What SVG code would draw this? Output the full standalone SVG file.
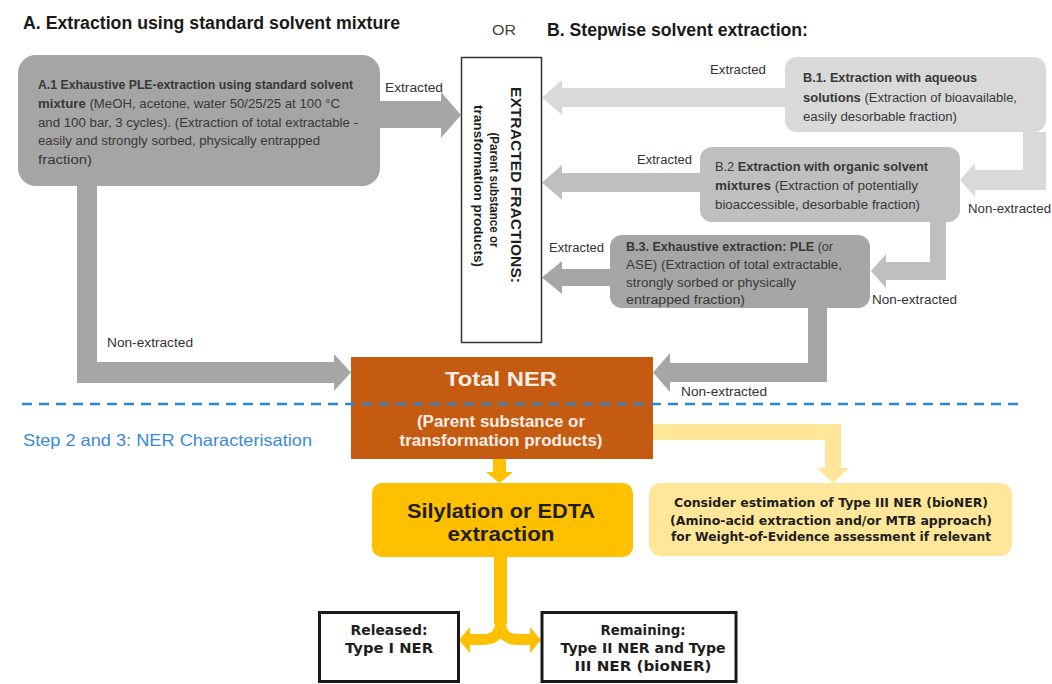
<svg xmlns="http://www.w3.org/2000/svg" width="1052" height="684" viewBox="0 0 1052 684">
<style>
.hdr{font-family:"Liberation Sans",Arial,sans-serif;font-weight:bold;font-size:18px;fill:#1a1a1a}
.box{font-family:"Liberation Sans",Arial,sans-serif;font-size:12px;fill:#383838}
.b{font-weight:bold}
.lbl{font-family:"Liberation Sans",Arial,sans-serif;font-size:12px;fill:#333}
.dvb{font-family:"DejaVu Sans",Verdana,sans-serif;font-weight:bold;fill:#1e1e1e}
.lsb{font-family:"Liberation Sans",Arial,sans-serif;font-weight:bold;fill:#1e1e1e}
.ner{font-family:"Liberation Sans",Arial,sans-serif;font-weight:bold;fill:#fbeee6;text-anchor:middle}
.g1{fill:#a6a6a6}.g2{fill:#bfbfbf}.g3{fill:#d9d9d9}
</style>
<rect width="1052" height="684" fill="#ffffff"/>

<g id="headers">
<text class="hdr" x="23" y="29" textLength="377" lengthAdjust="spacingAndGlyphs">A. Extraction using standard solvent mixture</text>
<text x="492" y="35" font-family="Liberation Sans, Arial, sans-serif" font-size="15" fill="#444" textLength="24" lengthAdjust="spacingAndGlyphs">OR</text>
<text class="hdr" x="547" y="36" textLength="261" lengthAdjust="spacingAndGlyphs">B. Stepwise solvent extraction:</text>
</g>

<g id="connectors">
<polygon class="g1" points="380,101 441,101 441,92 461,115 441,138 441,128 380,128"/>
<polygon class="g1" points="77,186 97,186 97,362 334,362 334,354 351,372.5 334,391 334,383 77,383"/>
<polygon class="g3" points="785,88 562,88 562,80 542,97.5 562,115 562,107 785,107"/>
<polygon class="g3" points="1023,132 1046,132 1046,190 975,190 975,197 960,180 975,163 975,170 1023,170"/>
<polygon class="g2" points="700,173 562,173 562,165 542,182.5 562,200 562,192 700,192"/>
<polygon class="g2" points="930,222 946,222 946,280 886,280 886,288 871,271 886,254 886,262 930,262"/>
<polygon class="g1" points="611,269 562,269 562,261 542,277.5 562,294 562,286 611,286"/>
<polygon class="g1" points="808,308 827,308 827,382 670,382 670,392 653,372.5 670,353 670,363 808,363"/>
<polygon fill="#ffe699" points="653,424 841,424 841,468 849,468 833,483 817,468 825,468 825,440 653,440"/>
<polygon fill="#ffc000" points="493,459 506,459 506,472 513,472 499.5,483 486,472 493,472"/>
<rect x="494" y="556" width="13" height="68" fill="#ffc000"/>
<path d="M500.5,600 V622 Q500.5,639.5 483,639.5 H468" stroke="#ffc000" stroke-width="11" fill="none"/>
<path d="M500.5,600 V622 Q500.5,639.5 518,639.5 H532" stroke="#ffc000" stroke-width="11" fill="none"/>
<polygon fill="#ffc000" points="470,627 459,640 470,653"/>
<polygon fill="#ffc000" points="530,627 541,640 530,653"/>
<text class="lbl" x="385" y="92" textLength="58" lengthAdjust="spacingAndGlyphs">Extracted</text>
<text class="lbl" x="107" y="347" textLength="86" lengthAdjust="spacingAndGlyphs">Non-extracted</text>
<text class="lbl" x="710" y="74" textLength="56" lengthAdjust="spacingAndGlyphs">Extracted</text>
<text class="lbl" x="637" y="164" textLength="55" lengthAdjust="spacingAndGlyphs">Extracted</text>
<text class="lbl" x="549" y="252" textLength="55" lengthAdjust="spacingAndGlyphs">Extracted</text>
<text class="lbl" x="968" y="213" textLength="83" lengthAdjust="spacingAndGlyphs">Non-extracted</text>
<text class="lbl" x="872" y="304" textLength="85" lengthAdjust="spacingAndGlyphs">Non-extracted</text>
<text class="lbl" x="681" y="396" textLength="86" lengthAdjust="spacingAndGlyphs">Non-extracted</text>
</g>

<g id="a1">
<rect x="18" y="55" width="362" height="131" rx="18" fill="#a5a5a5"/>
<text class="box" x="38" y="89" textLength="315" lengthAdjust="spacingAndGlyphs"><tspan class="b">A.1 Exhaustive PLE-extraction using standard solvent</tspan></text>
<text class="box" x="38" y="108" textLength="302" lengthAdjust="spacingAndGlyphs"><tspan class="b">mixture</tspan> (MeOH, acetone, water 50/25/25 at 100 °C</text>
<text class="box" x="38" y="126.5" textLength="320" lengthAdjust="spacingAndGlyphs">and 100 bar, 3 cycles). (Extraction of total extractable -</text>
<text class="box" x="38" y="145" textLength="282" lengthAdjust="spacingAndGlyphs">easily and strongly sorbed, physically entrapped</text>
<text class="box" x="38" y="164" textLength="54" lengthAdjust="spacingAndGlyphs">fraction)</text>
</g>

<g id="extracted-fractions">
<rect x="461.5" y="57.5" width="80" height="285" fill="#ffffff" stroke="#333" stroke-width="1.5"/>
<text class="lsb" transform="translate(511,185) rotate(90)" font-size="15.5" text-anchor="middle" textLength="196" lengthAdjust="spacingAndGlyphs">EXTRACTED FRACTIONS:</text>
<text class="lsb" transform="translate(490,190) rotate(90)" font-size="12.5" text-anchor="middle" textLength="115" lengthAdjust="spacingAndGlyphs">(Parent substance or</text>
<text class="lsb" transform="translate(474,186) rotate(90)" font-size="12.5" text-anchor="middle" textLength="162" lengthAdjust="spacingAndGlyphs">transformation products)</text>
</g>

<g id="b1">
<rect x="785" y="57" width="261" height="75" rx="12" fill="#d9d9d9"/>
<text class="box" x="803" y="82" textLength="174" lengthAdjust="spacingAndGlyphs"><tspan class="b">B.1.  Extraction with aqueous</tspan></text>
<text class="box" x="803" y="102" textLength="214" lengthAdjust="spacingAndGlyphs"><tspan class="b">solutions</tspan> (Extraction of bioavailable,</text>
<text class="box" x="803" y="121" textLength="154" lengthAdjust="spacingAndGlyphs">easily desorbable fraction)</text>
</g>

<g id="b2">
<rect x="700" y="147" width="260" height="75" rx="12" fill="#bfbfbf"/>
<text class="box" x="715" y="171" textLength="213" lengthAdjust="spacingAndGlyphs">B.2  <tspan class="b">Extraction with organic solvent</tspan></text>
<text class="box" x="715" y="190" textLength="203" lengthAdjust="spacingAndGlyphs"><tspan class="b">mixtures</tspan> (Extraction of potentially</text>
<text class="box" x="715" y="209" textLength="205" lengthAdjust="spacingAndGlyphs">bioaccessible, desorbable fraction)</text>
</g>

<g id="b3">
<rect x="610" y="235" width="260" height="73" rx="12" fill="#a6a6a6"/>
<text class="box" x="626" y="251" textLength="207" lengthAdjust="spacingAndGlyphs"><tspan class="b">B.3.  Exhaustive extraction: PLE</tspan> (or</text>
<text class="box" x="626" y="269" textLength="216" lengthAdjust="spacingAndGlyphs">ASE) (Extraction of total extractable,</text>
<text class="box" x="626" y="286.5" textLength="170" lengthAdjust="spacingAndGlyphs">strongly sorbed or physically</text>
<text class="box" x="626" y="304" textLength="119" lengthAdjust="spacingAndGlyphs">entrapped fraction)</text>
</g>

<g id="total-ner">
<rect x="351" y="357" width="302" height="102" fill="#c55a11"/>
<text class="ner" x="501" y="386" font-size="21" textLength="112" lengthAdjust="spacingAndGlyphs">Total NER</text>
<text class="ner" x="501" y="427" font-size="16" textLength="168" lengthAdjust="spacingAndGlyphs">(Parent substance or</text>
<text class="ner" x="501" y="446" font-size="16" textLength="203" lengthAdjust="spacingAndGlyphs">transformation products)</text>
</g>

<g id="divider">
<line x1="22" y1="404" x2="1018" y2="404" stroke="#2e86d6" stroke-width="2.5" stroke-dasharray="10 7"/>
<text x="23" y="446" font-family="Liberation Sans, Arial, sans-serif" font-size="16.5" fill="#3a8ad4" textLength="289" lengthAdjust="spacingAndGlyphs">Step 2 and 3: NER Characterisation</text>
</g>

<g id="silylation">
<rect x="372" y="483" width="261" height="74" rx="10" fill="#ffc000"/>
<text x="501" y="518" font-family="Liberation Sans, Arial, sans-serif" font-weight="bold" font-size="20" fill="#1f1f1f" text-anchor="middle" textLength="188" lengthAdjust="spacingAndGlyphs">Silylation or EDTA</text>
<text x="501" y="541" font-family="Liberation Sans, Arial, sans-serif" font-weight="bold" font-size="20" fill="#1f1f1f" text-anchor="middle" textLength="107" lengthAdjust="spacingAndGlyphs">extraction</text>
</g>

<g id="bioner">
<rect x="649" y="483" width="363" height="73" rx="12" fill="#ffe699"/>
<text class="dvb" x="831" y="507" font-size="12" text-anchor="middle" textLength="314" lengthAdjust="spacingAndGlyphs">Consider estimation of Type III NER (bioNER)</text>
<text class="dvb" x="831" y="525" font-size="12" text-anchor="middle" textLength="322" lengthAdjust="spacingAndGlyphs">(Amino-acid extraction and/or MTB approach)</text>
<text class="dvb" x="831" y="541" font-size="12" text-anchor="middle" textLength="320" lengthAdjust="spacingAndGlyphs">for Weight-of-Evidence assessment if relevant</text>
</g>

<g id="released">
<rect x="319.5" y="612.5" width="139" height="69" fill="#ffffff" stroke="#1a1a1a" stroke-width="3"/>
<text class="dvb" x="389" y="635" font-size="14" text-anchor="middle" textLength="77" lengthAdjust="spacingAndGlyphs">Released:</text>
<text class="dvb" x="389" y="653" font-size="14" text-anchor="middle" textLength="88" lengthAdjust="spacingAndGlyphs">Type I NER</text>
</g>

<g id="remaining">
<rect x="542" y="612.5" width="194" height="69" fill="#ffffff" stroke="#1a1a1a" stroke-width="3"/>
<text class="dvb" x="643" y="635" font-size="14" text-anchor="middle" textLength="85" lengthAdjust="spacingAndGlyphs">Remaining:</text>
<text class="dvb" x="643" y="653" font-size="14" text-anchor="middle" textLength="165" lengthAdjust="spacingAndGlyphs">Type II NER and Type</text>
<text class="dvb" x="643" y="671" font-size="14" text-anchor="middle" textLength="137" lengthAdjust="spacingAndGlyphs">III NER (bioNER)</text>
</g>
</svg>
